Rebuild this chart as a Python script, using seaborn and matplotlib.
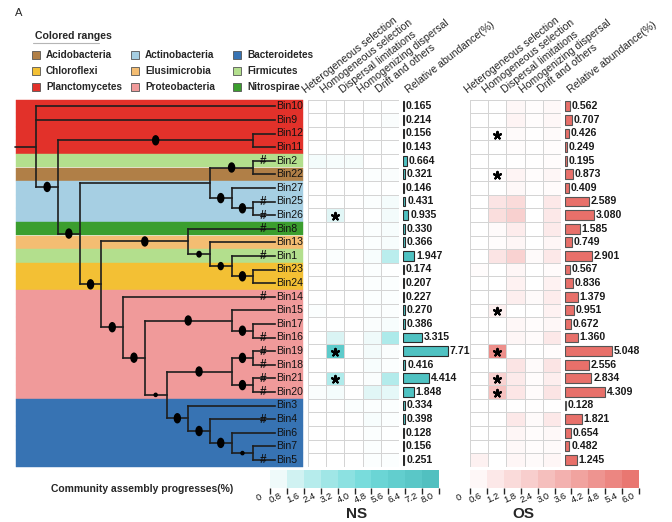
import matplotlib
matplotlib.use("Agg")
import matplotlib.pyplot as plt
import seaborn as sns
import numpy as np
import pandas as pd
from matplotlib.colors import LinearSegmentedColormap, ListedColormap, BoundaryNorm
from matplotlib.patches import Rectangle, Ellipse
from matplotlib.cm import ScalarMappable

sns.set_theme(style="white")
plt.rcParams['font.family'] = ['Liberation Sans', 'DejaVu Sans']

# ---------------- data ----------------
bins = ["Bin10", "Bin9", "Bin12", "Bin11", "Bin2", "Bin22", "Bin27", "Bin25", "Bin26",
        "Bin8", "Bin13", "Bin1", "Bin23", "Bin24", "Bin14", "Bin15", "Bin17", "Bin16",
        "Bin19", "Bin18", "Bin21", "Bin20", "Bin3", "Bin4", "Bin6", "Bin7", "Bin5"]
phylum = ["Planctomycetes"] * 4 + ["Firmicutes", "Acidobacteria"] + ["Actinobacteria"] * 3 + \
         ["Nitrospirae", "Elusimicrobia", "Firmicutes", "Chloroflexi", "Chloroflexi"] + \
         ["Proteobacteria"] * 8 + ["Bacteroidetes"] * 5
hash_bins = ["Bin2", "Bin25", "Bin26", "Bin8", "Bin1", "Bin14", "Bin16", "Bin19", "Bin18",
             "Bin21", "Bin20", "Bin4", "Bin5"]

# tree: (support, [children]); leaves are bin names
tree = (None, ["Bin10", "Bin9",
        (100, [(100, ["Bin12", "Bin11"]),
               (100, [(None, [(100, ["Bin2", "Bin22"]),
                              (100, ["Bin27", (100, ["Bin25", "Bin26"])])]),
                      (100, [(100, ["Bin8", (50, ["Bin13", (80, ["Bin1", (100, ["Bin23", "Bin24"])])])]),
                             (100, ["Bin14",
                                    (100, [(100, ["Bin15", (100, ["Bin17", "Bin16"])]),
                                           (20, [(100, [(100, ["Bin19", "Bin18"]), (100, ["Bin21", "Bin20"])]),
                                                 (100, ["Bin3", (100, ["Bin4", (100, ["Bin6", (20, ["Bin7", "Bin5"])])])])])])])])])])])

phyla_legend = ["Acidobacteria", "Actinobacteria", "Bacteroidetes",
                "Chloroflexi", "Elusimicrobia", "Firmicutes",
                "Planctomycetes", "Proteobacteria", "Nitrospirae"]
phyla_colors = ["#b07f47", "#a6cfe3", "#3773b3",
                "#f3c034", "#f4bd72", "#b3df8d",
                "#e2312a", "#f09a9a", "#3b9e2e"]

assembly_cols = ["Heterogeneous selection", "Homogeneous selection", "Dispersal limitations",
                 "Homogenizing dispersal", "Drift and others"]
bar_col_label = "Relative abundance(%)"

# NS
ns_het = [0, 0, 0, 0, 0.25, 0, 0, 0, 0, 0, 0, 0, 0, 0, 0, 0.1, 0, 0, 0, 0, 0, 0.15, 0, 0, 0, 0, 0]
ns_hom = [0, 0, 0, 0, 0.2, 0.05, 0, 0.05, 0.7, 0, 0, 0.1, 0, 0, 0, 0, 0.05, 0.9, 6.4, 0, 2.2, 0.25, 0, 0, 0, 0, 0]
ns_disp = [0, 0, 0, 0, 0.2, 0, 0, 0, 0, 0, 0, 0, 0, 0, 0, 0, 0, 0, 0, 0, 0, 0, 0.1, 0, 0, 0, 0]
ns_homdisp = [0.05, 0.05, 0.05, 0.05, 0, 0.1, 0.05, 0.1, 0.05, 0.1, 0.1, 0.2, 0.1, 0.1, 0.1, 0.1, 0.15, 0.4,
              0.3, 0.2, 0.15, 0.7, 0.1, 0.2, 0.1, 0.1, 0.1]
ns_drift = [0.05, 0.15, 0.05, 0.05, 0.05, 0.15, 0.05, 0.25, 0.3, 0.2, 0.2, 1.9, 0.05, 0.1, 0.1, 0.1, 0.2, 2.3,
            0.15, 0.1, 2.1, 0.6, 0.1, 0.1, 0.05, 0.05, 0.1]
ns_abund = ["0.165", "0.214", "0.156", "0.143", "0.664", "0.321", "0.146", "0.431", "0.935", "0.330",
            "0.366", "1.947", "0.174", "0.207", "0.227", "0.270", "0.386", "3.315", "7.71", "0.416",
            "4.414", "1.848", "0.334", "0.398", "0.128", "0.156", "0.251"]
ns_star_bins = ["Bin26", "Bin19", "Bin21"]

# OS
os_het = [0, 0, 0, 0, 0, 0, 0, 0, 0, 0, 0, 0, 0.1, 0, 0, 0, 0, 0, 0, 0, 0, 0, 0, 0, 0, 0, 0.5]
os_hom = [0, 0, 0.05, 0, 0, 0.1, 0, 1.1, 1.4, 0.2, 0.1, 1.1, 0, 0, 0, 0.5, 0, 0, 4.7, 0, 1.9, 2.6, 0, 0, 0, 0, 0]
os_disp = [0.3, 0.4, 0.2, 0.1, 0.05, 0.4, 0.25, 1.5, 2.0, 0.7, 0.35, 1.9, 0.35, 0.45, 0.6, 0, 0.3, 0.35, 0,
           1.1, 0.8, 1.0, 0.05, 0.9, 0.35, 0.25, 0.35]
os_homdisp = [0.1, 0.1, 0.05, 0.05, 0.05, 0.1, 0.05, 0, 0, 0, 0, 0.2, 0, 0, 0.2, 0, 0.1, 0.15, 0, 0.2, 0.1,
              0.15, 0.05, 0.2, 0.1, 0.1, 0.2]
os_drift = [0.25, 0.3, 0.2, 0.1, 0.1, 0.35, 0.15, 0.9, 0.9, 0.8, 0.35, 0.9, 0.15, 0.45, 0.7, 0.45, 0.3, 0.9,
            0.1, 1.1, 0.6, 1.1, 0.03, 0.9, 0.25, 0.2, 0.35]
os_abund = ["0.562", "0.707", "0.426", "0.249", "0.195", "0.873", "0.409", "2.589", "3.080", "1.585",
            "0.749", "2.901", "0.567", "0.836", "1.379", "0.951", "0.672", "1.360", "5.048", "2.556",
            "2.834", "4.309", "0.128", "1.821", "0.654", "0.482", "1.245"]
os_star_bins = ["Bin12", "Bin22", "Bin15", "Bin19", "Bin21", "Bin20"]

ns_ticks = ["0", "0.8", "1.6", "2.4", "3.2", "4.0", "4.8", "5.6", "6.4", "7.2", "8.0"]
os_ticks = ["0", "0.6", "1.2", "1.8", "2.4", "3.0", "3.6", "4.2", "4.8", "5.4", "6.0"]

# ---------------- layout ----------------
W, H = 672, 522
fig = plt.figure(figsize=(W / 100, H / 100), dpi=100)


def px_axes(x, y, w, h):
    return fig.add_axes([x / W, 1 - (y + h) / H, w / W, h / H])


bg = px_axes(0, 0, W, H)
bg.set_xlim(0, W)
bg.set_ylim(H, 0)
bg.axis('off')

N = len(bins)
ROW_TOP, ROW_H = 99.5, 13.6
LEAF_X, STEP = 275.0, 21.7


def row_y(i):
    return ROW_TOP + ROW_H * (i + 0.5)


pcol = dict(zip(phyla_legend, phyla_colors))

# colored ranges
for i, ph in enumerate(phylum):
    bg.add_patch(Rectangle((16, ROW_TOP + i * ROW_H), 287, ROW_H, facecolor=pcol[ph],
                           edgecolor=pcol[ph], lw=0.3, zorder=1))


# tree
def place(node):
    if isinstance(node, str):
        return {"y": row_y(bins.index(node)), "h": 0, "kids": [], "sup": None, "name": node}
    sup, children = node
    kids = [place(c) for c in children]
    return {"y": (kids[0]["y"] + kids[-1]["y"]) / 2, "h": max(k["h"] for k in kids) + 1,
            "kids": kids, "sup": sup, "name": None}


def nx(n):
    return LEAF_X - STEP * n["h"]


LC = "#1e1e1e"
LW = 1.2
dot_size = {100: (6.0, 9.0), 80: (5.0, 7.0), 50: (4.2, 5.5), 20: (3.0, 3.2)}


def draw(n):
    x = nx(n)
    if not n["kids"]:
        return
    bg.plot([x, x], [n["kids"][0]["y"], n["kids"][-1]["y"]], color=LC, lw=LW,
            solid_capstyle='projecting', zorder=3)
    for k in n["kids"]:
        kx = nx(k)
        bg.plot([x, kx], [k["y"], k["y"]], color=LC, lw=LW, solid_capstyle='projecting', zorder=3)
        if k["sup"]:
            w, h = dot_size[k["sup"]]
            bg.add_patch(Ellipse(((x + kx) / 2, k["y"]), w, h, color='black', zorder=4))
        draw(k)


root = place(tree)
draw(root)
bg.plot([nx(root) - STEP, nx(root)], [root["y"]] * 2, color=LC, lw=LW, zorder=3)

for i, b in enumerate(bins):
    bg.text(LEAF_X + 1, row_y(i), b, fontsize=7.6, va='center', ha='left', color='#111111', zorder=5)
    if b in hash_bins:
        bg.text(263, row_y(i) + 0.5, '#', fontsize=8.5, va='center', ha='center', color='#111111',
                fontweight='bold', zorder=5)

# legend
bg.text(35, 36, "Colored ranges", fontsize=7.6, fontweight='bold', va='center', ha='left')
bg.plot([33, 99], [43, 43], color='#b5b5b5', lw=0.8)
leg_x = [32, 131, 233]
leg_y = [55, 71, 87]
for k, (ph, c) in enumerate(zip(phyla_legend, phyla_colors)):
    r, cidx = divmod(k, 3)
    bg.add_patch(Rectangle((leg_x[cidx], leg_y[r] - 4), 8, 8, facecolor=c, edgecolor='#555555', lw=0.6))
    bg.text(leg_x[cidx] + 14, leg_y[r], ph, fontsize=7.2, fontweight='bold', va='center', ha='left')

bg.text(15, 13, "A", fontsize=8, va='center', ha='left')

# colormaps
ns_cmap = LinearSegmentedColormap.from_list(
    "ns", [(0, '#ffffff'), (0.1, '#dcf5f5'), (0.3, '#a9e9e9'), (0.6, '#6fd9d9'), (1, '#4dbdbd')])
os_cmap = LinearSegmentedColormap.from_list(
    "os", [(0, '#ffffff'), (0.1, '#fdeeee'), (0.3, '#f9d5d4'), (0.6, '#f2aaa7'), (1, '#e8706a')])


def panel(hx, vals, stars, cmap, vmax, abund, bar_color, bar_edge, px_per_unit, bar_w):
    df = pd.DataFrame(dict(zip(assembly_cols, vals)), index=bins)
    hw = 91
    axh = px_axes(hx, ROW_TOP, hw, N * ROW_H)
    sns.heatmap(df, ax=axh, cmap=cmap, vmin=0, vmax=vmax, cbar=False, linewidths=0.6,
                linecolor='#d4d4d4', xticklabels=False, yticklabels=False)
    axh.set_xlabel("")
    axh.set_ylabel("")
    col = assembly_cols.index("Homogeneous selection")
    sx = [col + 0.5] * len(stars)
    sy = [bins.index(b) + 0.58 for b in stars]
    axh.scatter(sx, sy, marker=(5, 2, 0), s=28, linewidths=1.5, color='black', zorder=5)
    # column headers
    cw = hw / 5
    for j, name in enumerate(assembly_cols):
        bg.text(hx + cw * (j + 0.5) - 10, 95, name, rotation=38, rotation_mode='anchor',
                ha='left', va='bottom', fontsize=7.6)
    bg.text(hx + hw + 11, 95, bar_col_label, rotation=38, rotation_mode='anchor',
            ha='left', va='bottom', fontsize=7.6)
    # bars
    bx = hx + hw + 4
    axb = px_axes(bx, ROW_TOP, bar_w, N * ROW_H)
    bdf = pd.DataFrame({"bin": bins, "val": [float(s) for s in abund]})
    sns.barplot(data=bdf, x="val", y="bin", orient='h', ax=axb, color=bar_color, saturation=1,
                edgecolor=bar_edge, linewidth=0.8, width=0.72)
    axb.set_xlim(0, bar_w / px_per_unit)
    axb.set_ylim(N - 0.5, -0.5)
    axb.axis('off')
    for i, s in enumerate(abund):
        axb.annotate(s, (float(s), i), xytext=(1.3, 0), textcoords='offset points', va='center',
                     ha='left', fontsize=7.6, fontweight='bold', color='#1a1a1a', annotation_clip=False)


panel(308, [ns_het, ns_hom, ns_disp, ns_homdisp, ns_drift], ns_star_bins, ns_cmap, 8.0, ns_abund,
      '#4fc2c2', '#2a2a2a', 5.8, 66)
panel(470, [os_het, os_hom, os_disp, os_homdisp, os_drift], os_star_bins, os_cmap, 6.0, os_abund,
      '#e8706a', '#555555', 9.3, 100)


def colorbar(x, cmap, ticks, label, label_x):
    vmax = float(ticks[-1])
    cw = 169
    cax = px_axes(x, 470, cw, 18)
    bounds = np.linspace(0, vmax, 11)
    cols = [cmap((k + 0.5) / 10) for k in range(10)]
    sm = ScalarMappable(norm=BoundaryNorm(bounds, 10), cmap=ListedColormap(cols))
    cb = fig.colorbar(sm, cax=cax, orientation='horizontal')
    cb.outline.set_visible(False)
    cax.set_xticks([])
    for t in ticks:
        v = float(t)
        bg.text(x + v / vmax * cw - 11, 498, t, rotation=25, ha='center', va='center', fontsize=6.8,
                color='#111111')
    bg.text(label_x, 514, label, fontsize=11, fontweight='bold', ha='center', va='center')


colorbar(270, ns_cmap, ns_ticks, "NS", 357)
colorbar(470, os_cmap, os_ticks, "OS", 523)

bg.text(142, 489, "Community assembly progresses(%)", fontsize=7.5, fontweight='bold',
        ha='center', va='center')

fig.savefig("out.png", dpi=100)
